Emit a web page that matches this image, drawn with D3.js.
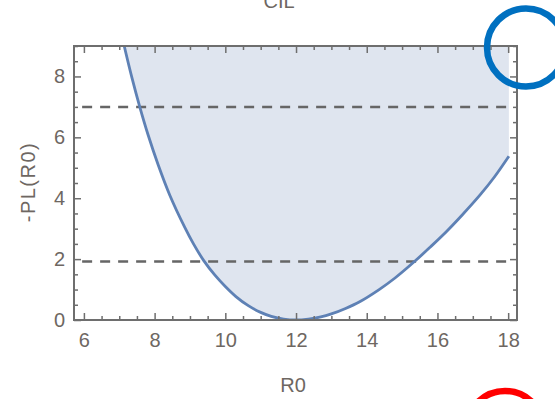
<!DOCTYPE html>
<html>
<head>
<meta charset="utf-8">
<script src="https://cdn.jsdelivr.net/npm/d3@7"></script>
<style>
  body { margin: 0; background: #fff; }
  svg { display: block; }
  text { font-family: "Liberation Sans", Arial, sans-serif; }
</style>
</head>
<body>
<div id="chart"></div>
<script>
// profile likelihood curve
const r0Values = [7.14, 7.36, 7.58, 7.81, 8.1, 8.43, 8.85, 9.1, 9.39, 9.7, 10.0, 10.3, 10.65, 11.0, 11.3, 11.65,
    12.0, 12.35, 12.7, 13.0, 13.4, 13.8, 14.35, 14.8, 15.35, 15.8, 16.25, 16.7, 17.2, 17.6, 18.02];
const negPL = [9.0, 7.95, 7.0, 6.1, 5.1, 4.1, 3.05, 2.5, 1.95, 1.48, 1.1, 0.77, 0.47, 0.25, 0.12, 0.03,
    0.0, 0.03, 0.1, 0.2, 0.38, 0.6, 1.0, 1.38, 1.92, 2.4, 2.9, 3.45, 4.1, 4.68, 5.38];

// dashed reference levels
const thresholds = [1.92, 7];

const xTicks = [6, 8, 10, 12, 14, 16, 18];
const yTicks = [0, 2, 4, 6, 8];

const width = 555, height = 399;
const plotLeft = 74, plotRight = 517, plotTop = 46, plotBottom = 320;

const lineColor = '#5e81b5';
const fillColor = '#dfe5ef';
const frameColor = '#6e6e6e';
const textColor = '#6e6762';

const svg = d3.select('#chart').append('svg')
    .attr('width', width)
    .attr('height', height);

const x = d3.scaleLinear().domain([5.72, 18.25]).range([plotLeft, plotRight]);
const y = d3.scaleLinear().domain([0, 9]).range([plotBottom, plotTop]);

const data = r0Values.map((r, i) => ({r: r, v: negPL[i]}));

svg.append('defs').append('clipPath').attr('id', 'plotClip')
    .append('rect')
    .attr('x', plotLeft).attr('y', plotTop)
    .attr('width', plotRight - plotLeft).attr('height', plotBottom - plotTop);

const plot = svg.append('g').attr('clip-path', 'url(#plotClip)');

const smooth = d3.curveCatmullRom.alpha(0.5);

// filling up to the top of the frame
const area = d3.area()
    .x(d => x(d.r))
    .y0(y(9))
    .y1(d => y(d.v))
    .curve(smooth);

plot.append('path')
    .datum(data)
    .attr('d', area)
    .attr('fill', fillColor);

// dashed levels
plot.selectAll('line.level')
    .data(thresholds)
    .enter()
    .append('line')
    .attr('class', 'level')
    .attr('x1', x(5.95))
    .attr('x2', x(18.02))
    .attr('y1', d => y(d))
    .attr('y2', d => y(d))
    .attr('stroke', '#666')
    .attr('stroke-width', 2.5)
    .attr('stroke-dasharray', '10,8');

const line = d3.line()
    .x(d => x(d.r))
    .y(d => y(d.v))
    .curve(smooth);

plot.append('path')
    .datum(data)
    .attr('d', line)
    .attr('fill', 'none')
    .attr('stroke', lineColor)
    .attr('stroke-width', 2.8);

// frame ticks, all pointing inward
const xMinor = d3.range(6, 18.01, 0.5).filter(v => v % 2 !== 0);
const yMinor = d3.range(0, 9.01, 0.5).filter(v => v % 2 !== 0);

function styleAxis(g) {
    g.select('.domain').remove();
    g.selectAll('line').attr('stroke', frameColor).attr('stroke-width', 1.5);
    g.selectAll('text')
        .attr('fill', textColor)
        .style('font-size', '20px');
}

svg.append('g')
    .attr('transform', `translate(0,${plotBottom})`)
    .call(d3.axisBottom(x).tickValues(xTicks).tickSizeInner(-7).tickSizeOuter(0).tickPadding(13))
    .call(styleAxis);
svg.append('g')
    .attr('transform', `translate(0,${plotBottom})`)
    .call(d3.axisBottom(x).tickValues(xMinor).tickFormat('').tickSizeInner(-4).tickSizeOuter(0))
    .call(styleAxis);
svg.append('g')
    .attr('transform', `translate(0,${plotTop})`)
    .call(d3.axisTop(x).tickValues(xTicks).tickFormat('').tickSizeInner(-7).tickSizeOuter(0))
    .call(styleAxis);
svg.append('g')
    .attr('transform', `translate(0,${plotTop})`)
    .call(d3.axisTop(x).tickValues(xMinor).tickFormat('').tickSizeInner(-4).tickSizeOuter(0))
    .call(styleAxis);

svg.append('g')
    .attr('transform', `translate(${plotLeft},0)`)
    .call(d3.axisLeft(y).tickValues(yTicks).tickSizeInner(-7).tickSizeOuter(0).tickPadding(9))
    .call(styleAxis);
svg.append('g')
    .attr('transform', `translate(${plotLeft},0)`)
    .call(d3.axisLeft(y).tickValues(yMinor).tickFormat('').tickSizeInner(-4).tickSizeOuter(0))
    .call(styleAxis);
svg.append('g')
    .attr('transform', `translate(${plotRight},0)`)
    .call(d3.axisRight(y).tickValues(yTicks).tickFormat('').tickSizeInner(-7).tickSizeOuter(0))
    .call(styleAxis);
svg.append('g')
    .attr('transform', `translate(${plotRight},0)`)
    .call(d3.axisRight(y).tickValues(yMinor).tickFormat('').tickSizeInner(-4).tickSizeOuter(0))
    .call(styleAxis);

// frame
svg.append('rect')
    .attr('x', plotLeft).attr('y', plotTop)
    .attr('width', plotRight - plotLeft).attr('height', plotBottom - plotTop)
    .attr('fill', 'none')
    .attr('stroke', frameColor)
    .attr('stroke-width', 2);

// labels
svg.append('text')
    .attr('x', 279).attr('y', 8)
    .attr('text-anchor', 'middle')
    .attr('fill', textColor)
    .style('font-size', '20px')
    .text('CIL');

svg.append('text')
    .attr('x', 293).attr('y', 392)
    .attr('text-anchor', 'middle')
    .attr('fill', textColor)
    .style('font-size', '20px')
    .text('R0');

svg.append('text')
    .attr('transform', 'translate(35,182) rotate(-90)')
    .attr('text-anchor', 'middle')
    .attr('fill', textColor)
    .style('font-size', '20px')
    .style('letter-spacing', '1.5px')
    .text('-PL(R0)');

// annotation circles
svg.append('circle')
    .attr('cx', 526).attr('cy', 47.5).attr('r', 39)
    .attr('fill', 'none')
    .attr('stroke', '#0070c0')
    .attr('stroke-width', 6.5);

svg.append('circle')
    .attr('cx', 505).attr('cy', 430).attr('r', 39)
    .attr('fill', 'none')
    .attr('stroke', '#ff0000')
    .attr('stroke-width', 6.5);
</script>
</body>
</html>
